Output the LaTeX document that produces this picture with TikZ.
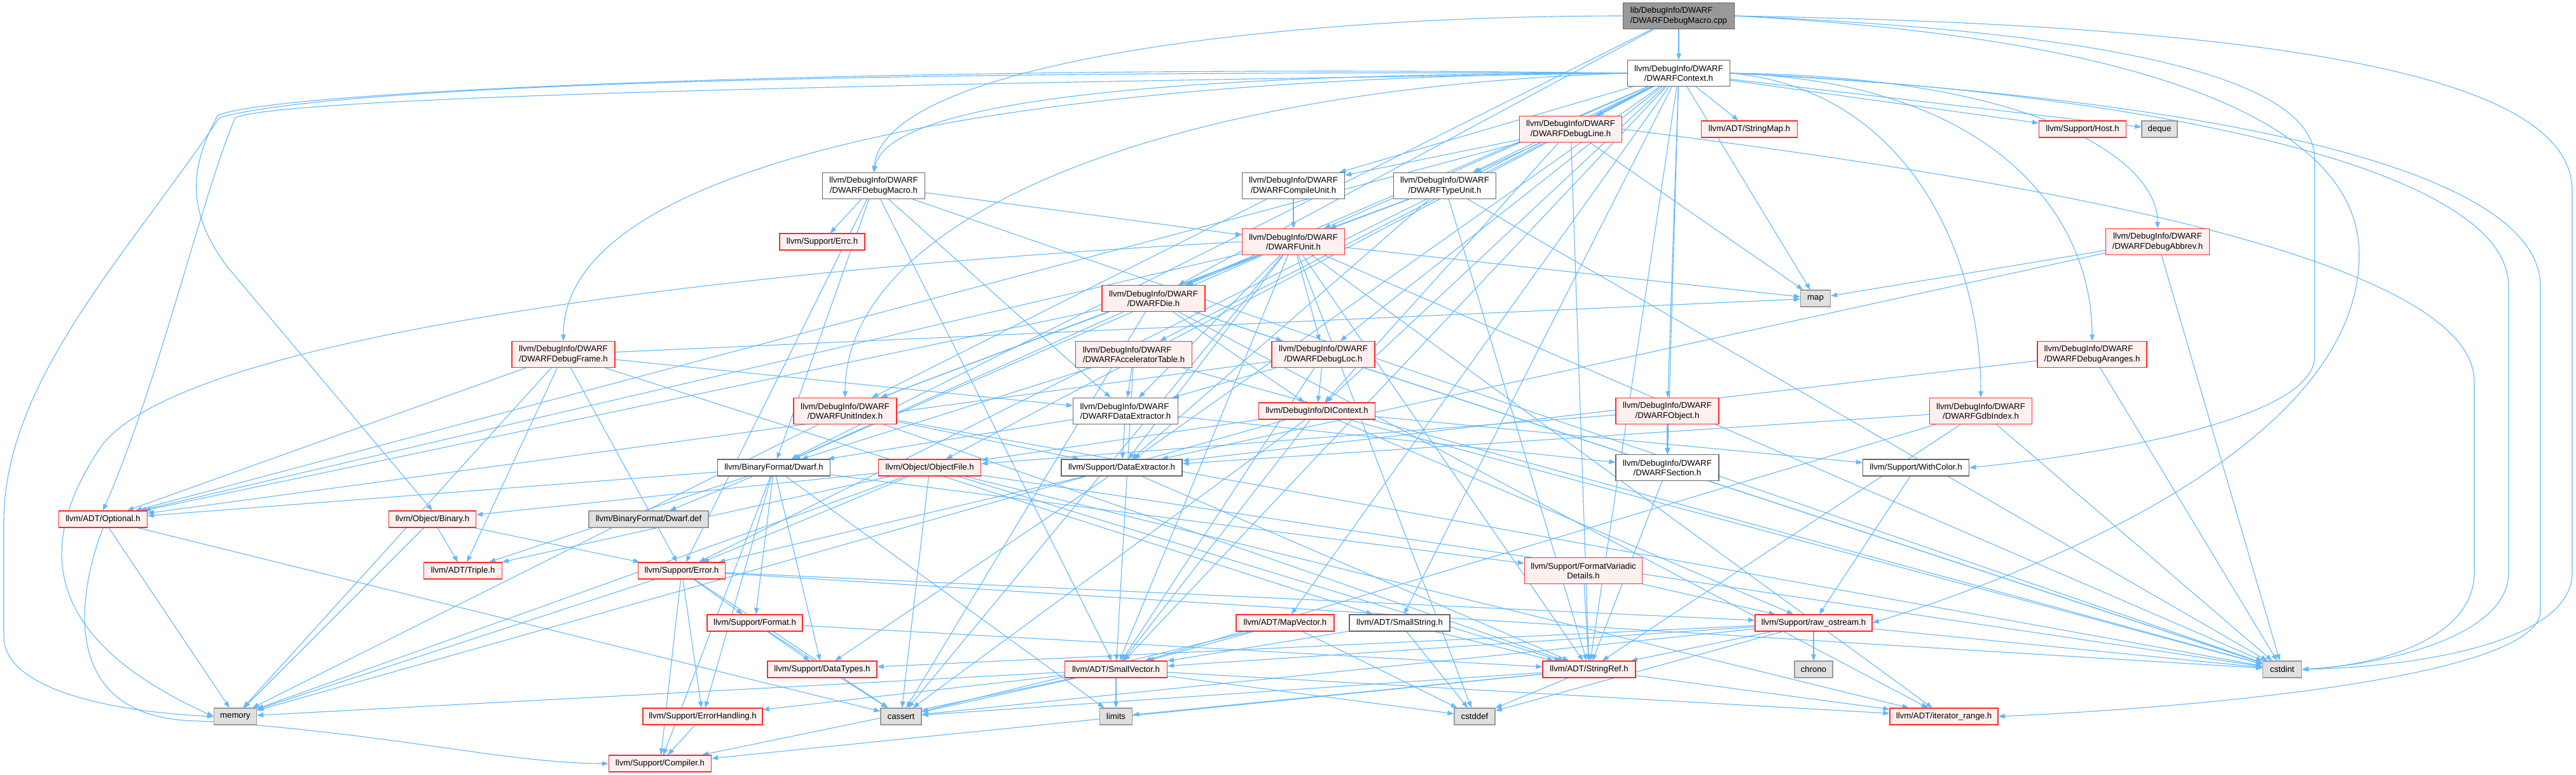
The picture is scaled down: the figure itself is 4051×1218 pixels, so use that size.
\documentclass[tikz,border=0pt]{standalone}
\usepackage{fontspec}
\setmainfont{Liberation Sans}
\usetikzlibrary{arrows.meta,backgrounds}
\definecolor{edgecol}{HTML}{63B8FF}
\definecolor{redfill}{HTML}{FFF0F0}
\definecolor{redline}{HTML}{FF2A2A}
\definecolor{grayfill}{HTML}{E0E0E0}
\definecolor{grayline}{HTML}{999999}
\definecolor{whiteline}{HTML}{666666}
\definecolor{rootfill}{HTML}{999999}
\tikzset{
  base/.style={draw, line width=1.3pt, inner sep=0pt, align=center, text=black,
    font=\fontsize{13.2}{15.3}\selectfont},
  rednode/.style={base, draw=redline, fill=redfill},
  whitenode/.style={base, draw=whiteline, fill=white},
  graynode/.style={base, draw=grayline, fill=grayfill},
  rootnode/.style={base, draw=whiteline, fill=rootfill},
  two/.style={minimum height=41pt},
  one/.style={minimum height=26pt},
  dep/.style={draw=edgecol, line width=1.1pt, -{Triangle[length=10pt,width=7.5pt]}}
}
\begin{document}
\begin{tikzpicture}[x=1pt,y=-1pt]
\useasboundingbox (0,0) rectangle (4051,1218);
\node[rootnode,two,minimum width=175pt,align=left] (root) at (2640,25) {lib/DebugInfo/DWARF\\/DWARFDebugMacro.cpp};
\node[whitenode,two,minimum width=161pt] (ctx) at (2640,115) {llvm/DebugInfo/DWARF\\/DWARFContext.h};
\node[rednode,two,minimum width=161pt] (dline) at (2470,203) {llvm/DebugInfo/DWARF\\/DWARFDebugLine.h};
\node[rednode,one,minimum width=151pt] (smap) at (2751,203) {llvm/ADT/StringMap.h};
\node[rednode,one,minimum width=137pt] (host) at (3275,203) {llvm/Support/Host.h};
\node[graynode,one,minimum width=56pt] (deque) at (3396,203) {deque};
\node[whitenode,two,minimum width=161pt] (dmacro) at (1374,292) {llvm/DebugInfo/DWARF\\/DWARFDebugMacro.h};
\node[whitenode,two,minimum width=161pt] (cu) at (2034,292) {llvm/DebugInfo/DWARF\\/DWARFCompileUnit.h};
\node[whitenode,two,minimum width=161pt] (tu) at (2272,292) {llvm/DebugInfo/DWARF\\/DWARFTypeUnit.h};
\node[rednode,one,minimum width=134pt] (errc) at (1293,380) {llvm/Support/Errc.h};
\node[rednode,two,minimum width=161pt] (unit) at (2034,380) {llvm/DebugInfo/DWARF\\/DWARFUnit.h};
\node[rednode,two,minimum width=163pt] (abbrev) at (3393,380) {llvm/DebugInfo/DWARF\\/DWARFDebugAbbrev.h};
\node[rednode,two,minimum width=162pt] (die) at (1814,469) {llvm/DebugInfo/DWARF\\/DWARFDie.h};
\node[graynode,one,minimum width=47pt] (map) at (2855,469) {map};
\node[rednode,two,minimum width=162pt] (frame) at (886,557) {llvm/DebugInfo/DWARF\\/DWARFDebugFrame.h};
\node[rednode,two,minimum width=183pt,align=left] (accel) at (1783,557) {llvm/DebugInfo/DWARF\\/DWARFAcceleratorTable.h};
\node[rednode,two,minimum width=162pt] (loc) at (2081,557) {llvm/DebugInfo/DWARF\\/DWARFDebugLoc.h};
\node[rednode,two,minimum width=172pt,align=left] (aranges) at (3290,557) {llvm/DebugInfo/DWARF\\/DWARFDebugAranges.h};
\node[rednode,two,minimum width=162pt] (uindex) at (1329,646) {llvm/DebugInfo/DWARF\\/DWARFUnitIndex.h};
\node[whitenode,two,minimum width=165pt,align=left] (dext) at (1770,646) {llvm/DebugInfo/DWARF\\/DWARFDataExtractor.h};
\node[rednode,one,minimum width=183pt] (dictx) at (2071,646) {llvm/DebugInfo/DIContext.h};
\node[rednode,two,minimum width=162pt] (obj) at (2622,646) {llvm/DebugInfo/DWARF\\/DWARFObject.h};
\node[rednode,two,minimum width=161pt] (gdb) at (3115,646) {llvm/DebugInfo/DWARF\\/DWARFGdbIndex.h};
\node[whitenode,one,minimum width=177pt] (dwarfh) at (1217,735) {llvm/BinaryFormat/Dwarf.h};
\node[rednode,one,minimum width=161pt] (objfile) at (1462,735) {llvm/Object/ObjectFile.h};
\node[whitenode,one,minimum width=190pt] (sdext) at (1764,735) {llvm/Support/DataExtractor.h};
\node[whitenode,two,minimum width=162pt] (section) at (2622,735) {llvm/DebugInfo/DWARF\\/DWARFSection.h};
\node[whitenode,one,minimum width=167pt] (withcolor) at (3013,735) {llvm/Support/WithColor.h};
\node[rednode,one,minimum width=139pt] (optional) at (162,816) {llvm/ADT/Optional.h};
\node[rednode,one,minimum width=137pt] (binary) at (680,816) {llvm/Object/Binary.h};
\node[graynode,one,minimum width=188pt] (dwarfdef) at (1020,816) {llvm/BinaryFormat/Dwarf.def};
\node[rednode,one,minimum width=123pt] (triple) at (728,897) {llvm/ADT/Triple.h};
\node[rednode,one,minimum width=137pt] (error) at (1072,897) {llvm/Support/Error.h};
\node[rednode,two,minimum width=185pt] (fvd) at (2490,897) {llvm/Support/FormatVariadic\\Details.h};
\node[rednode,one,minimum width=150pt] (format) at (1187,979) {llvm/Support/Format.h};
\node[rednode,one,minimum width=154pt] (mapvec) at (2021,979) {llvm/ADT/MapVector.h};
\node[whitenode,one,minimum width=158pt] (sstring) at (2201,979) {llvm/ADT/SmallString.h};
\node[rednode,one,minimum width=184pt] (rawos) at (2852,979) {llvm/Support/raw\_ostream.h};
\node[rednode,one,minimum width=172pt] (datatypes) at (1293,1052) {llvm/Support/DataTypes.h};
\node[rednode,one,minimum width=161pt] (svec) at (1755,1052) {llvm/ADT/SmallVector.h};
\node[rednode,one,minimum width=146pt] (sref) at (2499,1052) {llvm/ADT/StringRef.h};
\node[graynode,one,minimum width=60pt] (chrono) at (2852,1052) {chrono};
\node[graynode,one,minimum width=61pt] (cstdint) at (3589,1052) {cstdint};
\node[graynode,one,minimum width=67pt] (memory) at (370,1126) {memory};
\node[rednode,one,minimum width=188pt] (errh) at (1105,1126) {llvm/Support/ErrorHandling.h};
\node[graynode,one,minimum width=64pt] (cassert) at (1417,1126) {cassert};
\node[graynode,one,minimum width=51pt] (limits) at (1755,1126) {limits};
\node[graynode,one,minimum width=64pt] (cstddef) at (2319,1126) {cstddef};
\node[rednode,one,minimum width=170pt] (itrange) at (3057,1126) {llvm/ADT/iterator\_range.h};
\node[rednode,one,minimum width=161pt] (compiler) at (1038,1200) {llvm/Support/Compiler.h};
\begin{pgfonlayer}{background}
\fill[white] (0,0) rectangle (4051,1218);
\foreach \a/\b in {
 root/ctx, root/dwarfh, root/die,
 ctx/mapvec, ctx/sstring, ctx/svec, ctx/smap, ctx/sref, ctx/dictx, ctx/accel,
 ctx/cu, ctx/dline, ctx/loc, ctx/die,
 ctx/obj, ctx/section, ctx/tu, ctx/unit, ctx/objfile,
 ctx/sdext, ctx/error, ctx/host, ctx/deque, ctx/map,
 dline/optional, dline/sref, dline/dictx, dline/cu, dline/tu, dline/map,
 dmacro/svec, dmacro/dext, dmacro/unit, dmacro/errc, dmacro/error, dmacro/cstdint, dmacro/dwarfh,
 cu/unit, cu/uindex,
 tu/unit, tu/uindex, tu/sref, tu/sdext, tu/cstdint,
 unit/optional, unit/svec, unit/sref, unit/itrange, unit/dwarfh, unit/die, unit/loc,
 unit/uindex, unit/dext, unit/sdext, unit/cassert, unit/cstddef, unit/cstdint, unit/map,
 die/optional, die/itrange, die/dwarfh, die/dictx, die/loc, die/cassert, die/cstdint,
 frame/optional, frame/triple, frame/error, frame/memory, frame/dext, frame/sstring, frame/map,
 accel/svec, accel/dwarfh, accel/dext, accel/cstdint,
 loc/optional, loc/svec, loc/dictx, loc/dext, loc/cstdint,
 aranges/sdext, aranges/cstdint,
 abbrev/map, abbrev/sdext, abbrev/cstdint,
 uindex/sref, uindex/sdext, uindex/cstdint, uindex/memory,
 dext/dwarfh, dext/section, dext/sdext,
 dictx/svec, dictx/objfile, dictx/withcolor, dictx/rawos, dictx/cassert, dictx/cstdint, dictx/memory,
 obj/section, obj/objfile,
 gdb/svec, gdb/sref, gdb/sdext, gdb/cstdint,
 dwarfh/dwarfdef, dwarfh/optional, dwarfh/compiler, dwarfh/datatypes, dwarfh/errh,
 dwarfh/format, dwarfh/fvd, dwarfh/triple, dwarfh/limits,
 objfile/sref, objfile/triple, objfile/itrange, objfile/binary, objfile/error,
 objfile/cassert, objfile/cstdint, objfile/memory,
 sdext/sref, sdext/datatypes, sdext/error,
 section/sref, withcolor/rawos,
 optional/cassert, optional/memory,
 binary/triple, binary/error, binary/memory,
 error/compiler, error/errh, error/format, error/rawos, error/cassert, error/cstdint, error/memory,
 fvd/sref, fvd/rawos,
 format/sref, format/datatypes, format/cassert,
 mapvec/svec, mapvec/cassert, mapvec/cstddef,
 sstring/svec, sstring/sref, sstring/cstddef,
 rawos/svec, rawos/sref, rawos/datatypes, rawos/cassert, rawos/chrono, rawos/cstddef, rawos/cstdint,
 svec/itrange, svec/compiler, svec/errh, svec/cassert, svec/cstddef, svec/limits, svec/memory,
 sref/itrange, sref/compiler, sref/cassert, sref/cstddef, sref/limits,
 errh/compiler}
 \draw[dep] (\a) -- (\b);
% curved connectors, routed like the reference
\draw[dep] (root.west) .. controls (2000,25) and (1390,100) .. (dmacro.north);
\draw[dep] (ctx.west) .. controls (1900,115) and (1400,150) .. (dmacro.north);
\draw[dep] (ctx.west) .. controls (1600,120) and (886,250) .. (frame.north);
\draw[dep] (ctx.west) .. controls (1800,140) and (1329,350) .. (uindex.north);
\draw[dep] (ctx.east) .. controls (3200,120) and (3393,250) .. (abbrev.north);
\draw[dep] (ctx.east) .. controls (3150,130) and (3290,350) .. (aranges.north);
\draw[dep] (ctx.east) .. controls (3000,140) and (3115,400) .. (gdb.north);
\draw[dep] (root.east) .. controls (3600,40) and (4045,120) .. (4045,300)
  -- (4045,900) .. controls (4045,1010) and (3800,1048) .. (cstdint.east);
\draw[dep] (ctx.east) .. controls (3400,150) and (3995,250) .. (3995,450)
  -- (3995,960) .. controls (3995,1070) and (3400,1115) .. (itrange.east);
\draw[dep] (ctx.east) .. controls (3300,140) and (3945,250) .. (3945,450)
  -- (3945,900) .. controls (3945,1000) and (3750,1045) .. (cstdint.east);
\draw[dep] (dline.east) .. controls (3000,260) and (3891,380) .. (3891,600)
  -- (3891,900) .. controls (3891,1000) and (3750,1045) .. (cstdint.east);
\draw[dep] (root.east) .. controls (3200,45) and (3640,100) .. (3640,250)
  -- (3640,560) .. controls (3640,660) and (3300,715) .. (withcolor.east);
\draw[dep] (root.east) .. controls (3400,60) and (3710,200) .. (3710,400)
  .. controls (3710,700) and (3200,900) .. (rawos.east);
\draw[dep] (ctx.west) .. controls (1200,110) and (500,140) .. (345,185)
  .. controls (200,400) and (6,600) .. (6,820) -- (6,1000)
  .. controls (6,1090) and (200,1120) .. (memory.west);
\draw[dep] (ctx.west) .. controls (1500,100) and (420,140) .. (342,182)
  .. controls (300,260) and (290,330) .. (358,420) -- (binary.north);
\draw[dep] (ctx.west) .. controls (1500,130) and (450,150) .. (370,185)
  .. controls (320,300) and (250,600) .. (optional.north);
\draw[dep] (unit.west) .. controls (1200,420) and (300,520) .. (160,700)
  .. controls (58,850) and (58,1000) .. (memory.west);
\draw[dep] (optional.south) .. controls (116,950) and (100,1130) .. (310,1133)
  .. controls (600,1150) and (800,1200) .. (compiler.west);
\end{pgfonlayer}
\end{tikzpicture}
\end{document}
